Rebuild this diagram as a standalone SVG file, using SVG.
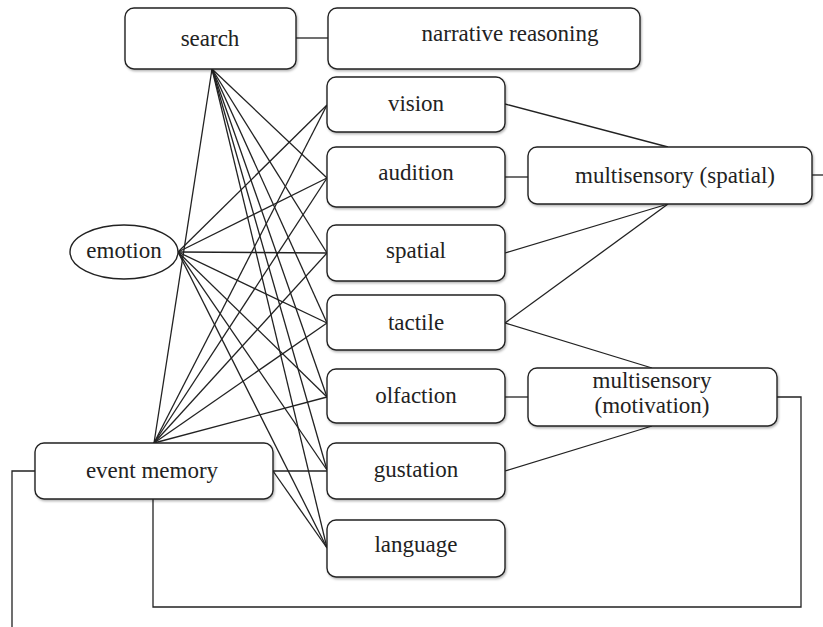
<svg xmlns="http://www.w3.org/2000/svg" width="823" height="627" viewBox="0 0 823 627">
<style>
.box{fill:#fff;stroke:#222;stroke-width:1.4;filter:url(#sh)}
.t{font-family:"Liberation Serif","Times New Roman",serif;font-size:23px;fill:#222;text-anchor:middle}
.c line,.c polyline{stroke:#222;stroke-width:1.3;fill:none}
</style>
<defs>
<filter id="sh" x="-10%" y="-10%" width="120%" height="130%">
<feDropShadow dx="1" dy="1.5" stdDeviation="1" flood-color="#000" flood-opacity="0.3"/>
</filter>
</defs>
<rect width="823" height="627" fill="#fff"/>
<g class="c" id="connectors">
<line x1="296" y1="38" x2="328" y2="38"/>
<line x1="212" y1="69" x2="327" y2="178"/>
<line x1="212" y1="69" x2="327" y2="253"/>
<line x1="212" y1="69" x2="327" y2="323"/>
<line x1="212" y1="69" x2="327" y2="397"/>
<line x1="212" y1="69" x2="327" y2="470"/>
<line x1="212" y1="69" x2="327" y2="548"/>
<line x1="212" y1="69" x2="154" y2="443"/>
<line x1="178" y1="252" x2="327" y2="105"/>
<line x1="178" y1="252" x2="327" y2="178"/>
<line x1="178" y1="252" x2="327" y2="253"/>
<line x1="178" y1="252" x2="327" y2="323"/>
<line x1="178" y1="252" x2="327" y2="397"/>
<line x1="178" y1="252" x2="327" y2="470"/>
<line x1="178" y1="252" x2="327" y2="548"/>
<line x1="154" y1="443" x2="327" y2="105"/>
<line x1="154" y1="443" x2="327" y2="178"/>
<line x1="154" y1="443" x2="327" y2="253"/>
<line x1="154" y1="443" x2="327" y2="323"/>
<line x1="154" y1="443" x2="327" y2="397"/>
<line x1="273" y1="471" x2="327" y2="471"/>
<line x1="273" y1="471" x2="327" y2="548"/>
<line x1="505" y1="104" x2="668" y2="147"/>
<line x1="505" y1="177" x2="528" y2="177"/>
<line x1="505" y1="253" x2="668" y2="204"/>
<line x1="505" y1="323" x2="668" y2="204"/>
<line x1="505" y1="323" x2="652" y2="368"/>
<line x1="505" y1="397" x2="528" y2="397"/>
<line x1="505" y1="471" x2="652" y2="426"/>
<line x1="812" y1="175" x2="823" y2="175"/>
<polyline points="777,397 801,397 801,607 153,607 153,499"/>
<polyline points="35,471 12,471 12,627"/>
</g>
<g id="search"><rect class="box" x="125" y="8" width="171" height="61" rx="9"/><text class="t" x="210" y="46">search</text></g>
<g id="narrative"><rect class="box" x="328" y="8" width="312" height="61" rx="9"/><text class="t" x="510" y="41">narrative reasoning</text></g>
<g id="vision"><rect class="box" x="327" y="77" width="178" height="55" rx="9"/><text class="t" x="416" y="111">vision</text></g>
<g id="audition"><rect class="box" x="327" y="147" width="178" height="60" rx="9"/><text class="t" x="416" y="180">audition</text></g>
<g id="spatial"><rect class="box" x="327" y="225" width="178" height="56" rx="9"/><text class="t" x="416" y="258">spatial</text></g>
<g id="tactile"><rect class="box" x="327" y="295" width="178" height="55" rx="9"/><text class="t" x="416" y="330">tactile</text></g>
<g id="olfaction"><rect class="box" x="327" y="369" width="178" height="54" rx="9"/><text class="t" x="416" y="403">olfaction</text></g>
<g id="gustation"><rect class="box" x="327" y="443" width="178" height="56" rx="9"/><text class="t" x="416" y="477">gustation</text></g>
<g id="language"><rect class="box" x="327" y="520" width="178" height="57" rx="9"/><text class="t" x="416" y="552">language</text></g>
<g id="emotion"><ellipse cx="124" cy="252" rx="54" ry="27" fill="#fff" stroke="#222" stroke-width="1.4"/><text class="t" x="124" y="258">emotion</text></g>
<g id="event-memory"><rect class="box" x="35" y="443" width="238" height="56" rx="9"/><text class="t" x="152" y="478">event memory</text></g>
<g id="ms-spatial"><rect class="box" x="528" y="147" width="284" height="57" rx="9"/><text class="t" x="675" y="183">multisensory (spatial)</text></g>
<g id="ms-motivation"><rect class="box" x="528" y="368" width="249" height="58" rx="9"/><text class="t" x="652" y="388">multisensory</text><text class="t" x="652" y="413">(motivation)</text></g>
</svg>
